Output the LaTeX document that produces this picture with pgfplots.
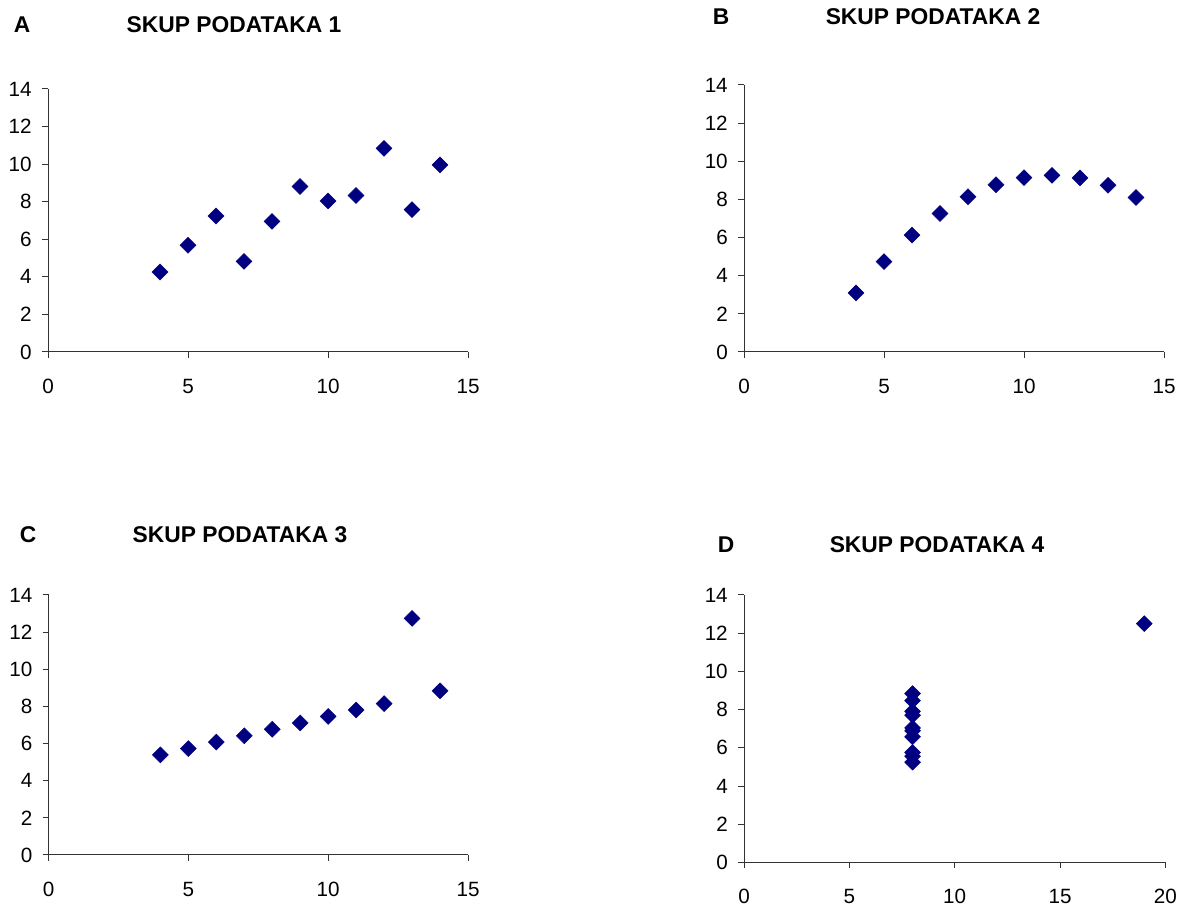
\documentclass[border=0pt]{standalone}
\usepackage{fontspec}
\setmainfont{Liberation Sans}
\usepackage{pgfplots}
\pgfplotsset{compat=1.18}
\definecolor{navymark}{RGB}{0,0,128}
\pgfplotsset{
  quad/.style={
    scale only axis, anchor=south west,
    axis x line=bottom, axis y line=left,
    axis line style={-, line width=0.75pt, black!80},
    xmin=0, ymin=0, ymax=14, ytick={0,2,...,14},
    tick align=outside, major tick length=4.5pt,
    tick style={line width=0.75pt, black!80},
    /pgf/number format/assume math mode=true,
    tick label style={font=\fontsize{15.5}{18}\selectfont},
    xticklabel style={anchor=base, inner sep=0pt, yshift=-26.6pt},
    yticklabel style={anchor=east, inner sep=0pt, xshift=-7.5pt},
    clip=false,
  },
  pts/.style={only marks, mark=square*, mark size=4.2pt,
    mark options={rotate=45, fill=navymark, draw=navymark}},
}
\begin{document}
\begin{tikzpicture}
\path[use as bounding box] (0,0) rectangle (885pt,681.75pt);
\tikzset{ttl/.style={font=\fontsize{17.1}{20}\selectfont\bfseries, anchor=center, inner sep=0pt}}

\begin{axis}[quad, at={(36pt,417.75pt)}, width=315pt, height=197.25pt, xmax=15, xtick={0,5,10,15}]
\addplot[pts] coordinates {(10,8.04)(8,6.95)(13,7.58)(9,8.81)(11,8.33)(14,9.96)(6,7.24)(4,4.26)(12,10.84)(7,4.82)(5,5.68)};
\end{axis}

\begin{axis}[quad, at={(558pt,417.75pt)}, width=315pt, height=200.25pt, xmax=15, xtick={0,5,10,15}]
\addplot[pts] coordinates {(10,9.14)(8,8.14)(13,8.74)(9,8.77)(11,9.26)(14,8.10)(6,6.13)(4,3.10)(12,9.13)(7,7.26)(5,4.74)};
\end{axis}

\begin{axis}[quad, at={(36.4pt,40.5pt)}, width=314.6pt, height=195pt, xmax=15, xtick={0,5,10,15}]
\addplot[pts] coordinates {(10,7.46)(8,6.77)(13,12.74)(9,7.11)(11,7.81)(14,8.84)(6,6.08)(4,5.39)(12,8.15)(7,6.42)(5,5.73)};
\end{axis}

\begin{axis}[quad, at={(558pt,34.9pt)}, width=316pt, height=200.6pt, xmax=20, xtick={0,5,10,15,20}]
\addplot[pts] coordinates {(8,6.58)(8,5.76)(8,7.71)(8,8.84)(8,8.47)(8,7.04)(8,5.25)(19,12.50)(8,5.56)(8,7.91)(8,6.89)};
\end{axis}

\node[ttl] at (16.5pt,663pt) {A};
\node[ttl] at (175.5pt,663pt) {SKUP PODATAKA 1};
\node[ttl] at (540.75pt,669pt) {B};
\node[ttl] at (699.75pt,669pt) {SKUP PODATAKA 2};
\node[ttl] at (21pt,280.5pt) {C};
\node[ttl] at (180pt,280.5pt) {SKUP PODATAKA 3};
\node[ttl] at (544.5pt,273pt) {D};
\node[ttl] at (702.75pt,273pt) {SKUP PODATAKA 4};
\end{tikzpicture}
\end{document}
